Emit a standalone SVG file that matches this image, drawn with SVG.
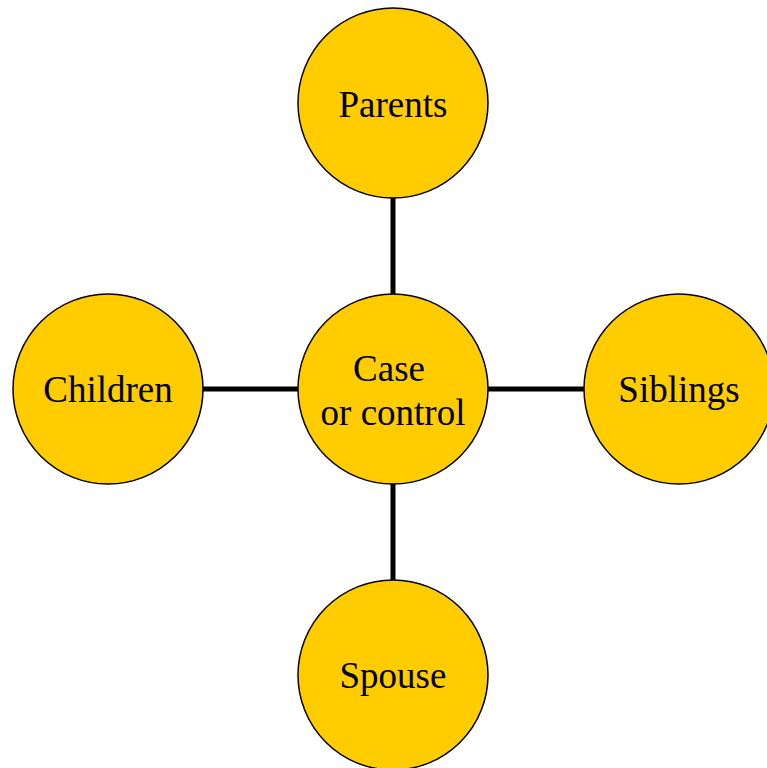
<svg xmlns="http://www.w3.org/2000/svg" width="767" height="768" viewBox="0 0 767 768">
<style>
.node{fill:#FFCC00;stroke:#000;stroke-width:1.5}
.lbl{font-family:"Liberation Serif","Times New Roman",serif;font-size:37px;fill:#000;text-anchor:middle}
.conn{stroke:#000;stroke-width:5;fill:none}
</style>
<rect width="767" height="768" fill="#fff"/>
<g id="connectors">
<line class="conn" x1="393" y1="197" x2="393" y2="295"/>
<line class="conn" x1="393" y1="483" x2="393" y2="581"/>
<line class="conn" x1="201" y1="389" x2="298" y2="389"/>
<line class="conn" x1="488" y1="389" x2="585" y2="389"/>
</g>
<g id="parents">
<circle class="node" cx="393" cy="103" r="95"/>
<text class="lbl" x="393" y="117">Parents</text>
</g>
<g id="case">
<circle class="node" cx="393" cy="389" r="95"/>
<text class="lbl" x="389" y="381">Case</text>
<text class="lbl" x="393" y="425">or control</text>
</g>
<g id="children">
<circle class="node" cx="108" cy="389" r="95"/>
<text class="lbl" x="108" y="402">Children</text>
</g>
<g id="siblings">
<circle class="node" cx="679" cy="389" r="95"/>
<text class="lbl" x="679" y="402">Siblings</text>
</g>
<g id="spouse">
<circle class="node" cx="393" cy="675" r="95"/>
<text class="lbl" x="393" y="688">Spouse</text>
</g>
</svg>
